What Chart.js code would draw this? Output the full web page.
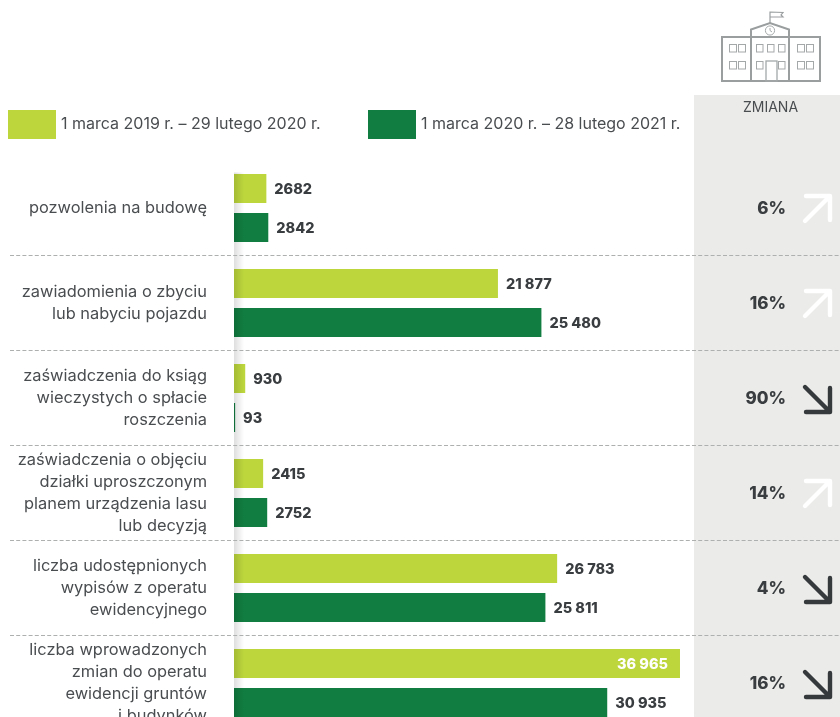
<!DOCTYPE html>
<html><head><meta charset="utf-8">
<style>html,body{margin:0;padding:0;background:#fff;overflow:hidden}#w{width:840px;height:717px;overflow:hidden}canvas{display:block}</style>
<script src="https://cdn.jsdelivr.net/npm/chart.js@4"></script></head>
<body><div id="w"><canvas id="c" width="840" height="731" style="width:840px;height:731px"></canvas></div>
<script>
const categories=[["pozwolenia na budowę"],["zawiadomienia o zbyciu","lub nabyciu pojazdu"],["zaświadczenia do ksiąg","wieczystych o spłacie","roszczenia"],["zaświadczenia o objęciu","działki uproszczonym","planem urządzenia lasu","lub decyzją"],["liczba udostępnionych","wypisów z operatu","ewidencyjnego"],["liczba wprowadzonych","zmian do operatu","ewidencji gruntów","i budynków"]];
const series2019=[2682,21877,930,2415,26783,36965];
const series2020=[2842,25480,93,2752,25811,30935];
const label2019="1 marca 2019 r. – 29 lutego 2020 r.";
const label2020="1 marca 2020 r. – 28 lutego 2021 r.";
const changes=["6%","16%","90%","14%","4%","16%"];
const directions=["up","up","down","up","down","down"];
const LIGHT="#bcd63c",DARK="#117d40",TXT="#3a3d40",SOFT="#4a4d50",F='Inter';
const fmt=v=>v>=10000?String(v).replace(/(\d)(?=\d{3}$)/,"$1 "):String(v);
function building(ctx){
  ctx.save();ctx.strokeStyle="#9a9e9f";ctx.lineWidth=2;ctx.lineJoin="miter";
  const R=(x,y,w,h)=>ctx.strokeRect(x,y,w,h);
  R(722,37,98,44);
  ctx.beginPath();ctx.moveTo(751,81);ctx.lineTo(751,29.5);ctx.lineTo(770,23);ctx.lineTo(789,29.5);ctx.lineTo(789,81);ctx.stroke();
  ctx.lineWidth=1.2;
  ctx.beginPath();ctx.moveTo(770,23);ctx.lineTo(770,12);ctx.lineTo(783,12.5);ctx.lineTo(781,15);ctx.lineTo(783,17);ctx.lineTo(770,17);ctx.stroke();
  ctx.lineWidth=1;ctx.strokeStyle="#a4a8a9";
  ctx.beginPath();ctx.arc(770,30.5,4.6,0,Math.PI*2);ctx.moveTo(770,28);ctx.lineTo(770,30.5);ctx.lineTo(772,32);ctx.stroke();
  for(const y of [44.5,61.5]){for(const x of [729.5,738.5,797.5,806.5])R(x,y,7,7.5);}
  for(const x of [756.5,767.5,778.5])R(x,44.5,6.5,7.5);
  R(756.5,61.5,6.5,7.5);R(778.5,61.5,6.5,7.5);
  ctx.lineWidth=1.3;R(766,61,11,20);
  ctx.restore();
}
function arrow(ctx,cx,cy,dir){
  ctx.save();ctx.lineWidth=4.4;ctx.lineCap="round";ctx.lineJoin="round";
  ctx.beginPath();
  if(dir==="up"){ctx.strokeStyle="#fff";ctx.moveTo(cx-13,cy+12);ctx.lineTo(cx+12,cy-13);ctx.moveTo(cx-12,cy-13);ctx.lineTo(cx+12,cy-13);ctx.lineTo(cx+12,cy+11);}
  else{ctx.strokeStyle="#36393c";ctx.moveTo(cx-13,cy-12);ctx.lineTo(cx+12,cy+13);ctx.moveTo(cx-12,cy+13);ctx.lineTo(cx+12,cy+13);ctx.lineTo(cx+12,cy-11);}
  ctx.stroke();ctx.restore();
}
const deco={id:"deco",
 beforeDatasetsDraw(chart){
  const ctx=chart.ctx;
  ctx.save();
  ctx.fillStyle="#ebebe9";ctx.fillRect(694,95,146,640);
  ctx.restore();
 },
 afterDatasetsDraw(chart){
  const ctx=chart.ctx,y=chart.scales.y,a=chart.chartArea;
  ctx.save();
  const g=ctx.createLinearGradient(a.left,0,a.left+10,0);
  g.addColorStop(0,"rgba(0,0,0,.13)");g.addColorStop(1,"rgba(0,0,0,0)");
  ctx.fillStyle=g;ctx.fillRect(a.left,a.top+12,10,a.bottom-a.top);
  ctx.strokeStyle="#aeb0b0";ctx.lineWidth=1;ctx.setLineDash([4,2.2]);
  for(let i=0;i<categories.length-1;i++){
    const yy=Math.floor((y.getPixelForTick(i)+y.getPixelForTick(i+1))/2-.2)+.5;
    ctx.beginPath();ctx.moveTo(10,yy);ctx.lineTo(840,yy);ctx.stroke();
  }
  ctx.setLineDash([]);
  building(ctx);
  ctx.textBaseline="middle";ctx.textAlign="left";
  ctx.fillStyle=LIGHT;ctx.fillRect(8,110,48,29);
  ctx.fillStyle=DARK;ctx.fillRect(368,110,48,29);
  ctx.fillStyle=SOFT;ctx.font='16px '+F;
  ctx.fillText(chart.data.datasets[0].label,61,124);
  ctx.fillText(chart.data.datasets[1].label,421,124);
  ctx.textAlign="center";ctx.font='14px '+F;ctx.fillText("ZMIANA",770.5,108);
  chart.data.datasets.forEach((d,di)=>{
    chart.getDatasetMeta(di).data.forEach((b,i)=>{
      const v=d.data[i],big=v>36000;
      ctx.font='800 14.5px '+F;
      ctx.textAlign=big?"right":"left";
      ctx.fillStyle=big?"#fff":TXT;
      ctx.fillText(fmt(v),big?b.x-12:b.x+8,b.y+1.5);
    });
  });
  changes.forEach((c,i)=>{
    const cy=y.getPixelForTick(i);
    ctx.textAlign="right";ctx.fillStyle=TXT;ctx.font='800 17px '+F;
    ctx.fillText(c,786,cy+1);
    arrow(ctx,818,cy+1,directions[i]);
  });
  ctx.restore();
 }};
new Chart(document.getElementById("c"),{type:"bar",plugins:[deco],
 data:{labels:categories,datasets:[
  {label:label2019,data:series2019,backgroundColor:LIGHT,categoryPercentage:78/95,barPercentage:29/39},
  {label:label2020,data:series2020,backgroundColor:DARK,categoryPercentage:78/95,barPercentage:29/39}]},
 options:{indexAxis:"y",responsive:false,animation:false,
  layout:{padding:{top:160.5,right:146,bottom:.5,left:0}},
  plugins:{legend:{display:false},tooltip:{enabled:false}},
  scales:{
   x:{display:false,min:0,max:38127},
   y:{afterFit(s){s.width=234;s.paddingTop=0;s.paddingBottom=0},grid:{display:false},border:{display:false},
      ticks:{color:SOFT,padding:19,font:{family:F,size:16.4,lineHeight:"22px"},autoSkip:false}}
  }}});
</script></body></html>
